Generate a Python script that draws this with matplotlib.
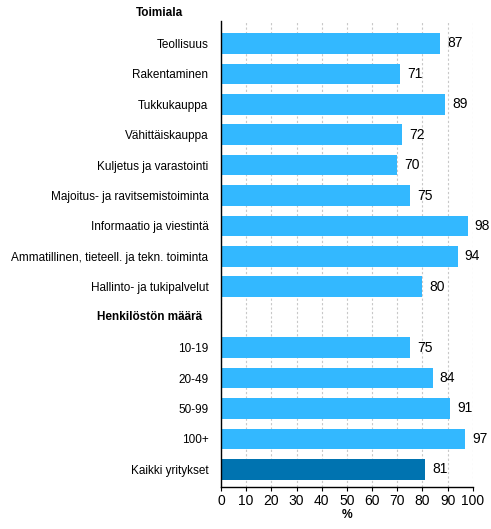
import matplotlib
matplotlib.use("Agg")
import matplotlib.pyplot as plt
import matplotlib.transforms as mtransforms

plt.rcParams["font.family"] = ["Liberation Sans", "DejaVu Sans"]
plt.rcParams["font.size"] = 8.5

# rows, top to bottom; None = group header without bar
categories = [
    "Toimiala",
    "Teollisuus",
    "Rakentaminen",
    "Tukkukauppa",
    "Vähittäiskauppa",
    "Kuljetus ja varastointi",
    "Majoitus- ja ravitsemistoiminta",
    "Informaatio ja viestintä",
    "Ammatillinen, tieteell. ja tekn. toiminta",
    "Hallinto- ja tukipalvelut",
    "Henkilöstön määrä",
    "10-19",
    "20-49",
    "50-99",
    "100+",
    "Kaikki yritykset",
]
values = [None, 87, 71, 89, 72, 70, 75, 98, 94, 80, None, 75, 84, 91, 97, 81]
headers = ["Toimiala", "Henkilöstön määrä"]
total_label = "Kaikki yritykset"
xticks = list(range(0, 101, 10))

LIGHT = "#33b8ff"
DARK = "#0073b0"

fig = plt.figure(figsize=(4.91, 5.29), dpi=100)
ax = fig.add_axes([0.450, 0.080, 0.513, 0.881])

for i, (cat, v) in enumerate(zip(categories, values)):
    if v is None:
        continue
    color = DARK if cat == total_label else LIGHT
    ax.barh(i, v, height=0.68, color=color, zorder=2)
    ax.text(v + 2.8, i, f"{v}", va="center", ha="left", fontsize=10, zorder=3)

ax.set_ylim(15.57, 0.25)
ax.set_xlim(0, 100)
ax.set_xticks(xticks)
ax.tick_params(axis="x", labelsize=10, length=3, width=0.8, pad=2)
ax.tick_params(axis="y", length=0, pad=9)

ticks = [i for i, v in enumerate(values) if v is not None]
ax.set_yticks(ticks)
ax.set_yticklabels([categories[i] for i in ticks])

# group headers, bold, outside the bar area
trans = mtransforms.blended_transform_factory(fig.transFigure, ax.transData)
header_x = {"Toimiala": 183 / 491, "Henkilöstön määrä": 202 / 491}
for i, cat in enumerate(categories):
    if cat in headers:
        ax.text(header_x[cat], i, cat, transform=trans, ha="right",
                va="center", fontweight="bold", clip_on=False)

ax.grid(axis="x", linestyle=(0, (2, 2)), color="#c8c8c8", linewidth=0.8, zorder=0)
ax.set_axisbelow(True)
for s in ["top", "right"]:
    ax.spines[s].set_visible(False)
ax.spines["left"].set_linewidth(1.0)
ax.spines["bottom"].set_linewidth(1.0)

ax.set_xlabel("%", fontweight="bold", fontsize=8.7, labelpad=1)

fig.savefig("out.png", dpi=100)
